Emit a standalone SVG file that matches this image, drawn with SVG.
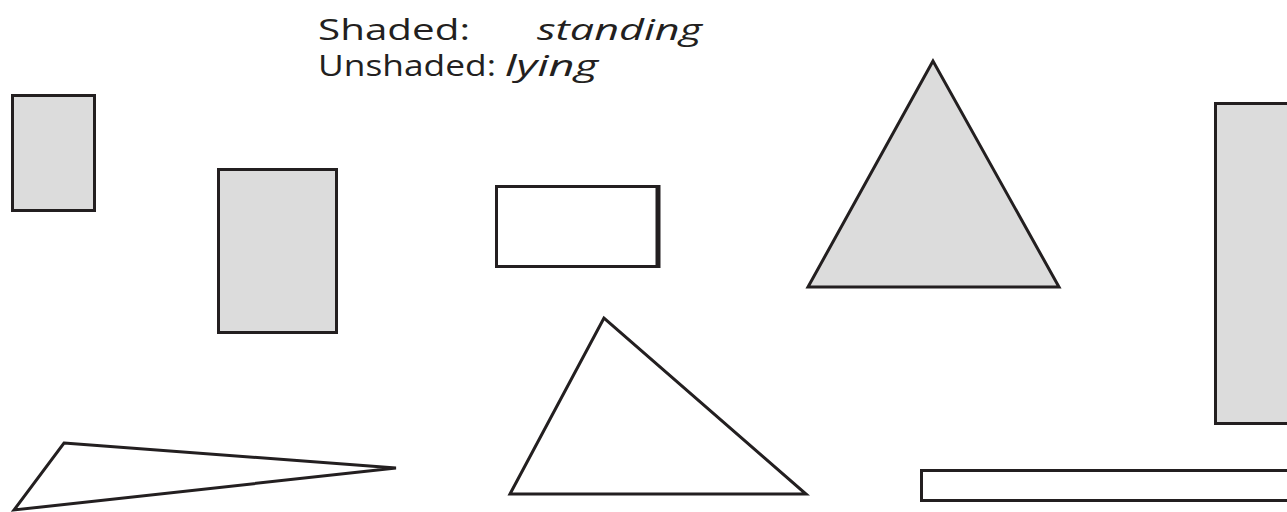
<svg xmlns="http://www.w3.org/2000/svg" width="1287" height="512" viewBox="0 0 1287 512">
<style>
.s{fill:#dcdcdc;stroke:#231f20;stroke-width:3}
.u{fill:#fff;stroke:#231f20;stroke-width:3}
.t{fill:none;stroke:#231f20;stroke-width:3;stroke-linejoin:miter}
.lbl{font-family:"Open Sans","DejaVu Sans",sans-serif;font-size:29px;fill:#231f20}
</style>
<rect width="1287" height="512" fill="#fff"/>
<g id="legend">
<text class="lbl" x="318" y="40" textLength="152" lengthAdjust="spacingAndGlyphs">Shaded:</text>
<text class="lbl" x="537" y="40" font-style="italic" textLength="165" lengthAdjust="spacingAndGlyphs">standing</text>
<text class="lbl" x="318" y="76" textLength="178" lengthAdjust="spacingAndGlyphs">Unshaded:</text>
<text class="lbl" x="505" y="76" font-style="italic" textLength="93" lengthAdjust="spacingAndGlyphs">lying</text>
</g>
<g id="rect1"><rect class="s" x="12.5" y="95.5" width="82" height="115"/></g>
<g id="rect2"><rect class="s" x="218.5" y="169.5" width="118" height="163"/></g>
<g id="rect3"><rect class="u" x="496.5" y="186.5" width="162" height="80"/><line x1="658" y1="185" x2="658" y2="268" stroke="#231f20" stroke-width="5"/></g>
<g id="tri1"><polygon class="s" points="933,61 808,287 1059,287"/></g>
<g id="rect4"><rect class="s" x="1215.5" y="103.5" width="80" height="320"/></g>
<g id="tri2"><polygon class="t" points="64,443 396,468 14,510"/></g>
<g id="tri3"><polygon class="t" points="604,318 510,494 806,494"/></g>
<g id="rect5"><rect class="u" x="921.5" y="470.5" width="380" height="30"/></g>
</svg>
